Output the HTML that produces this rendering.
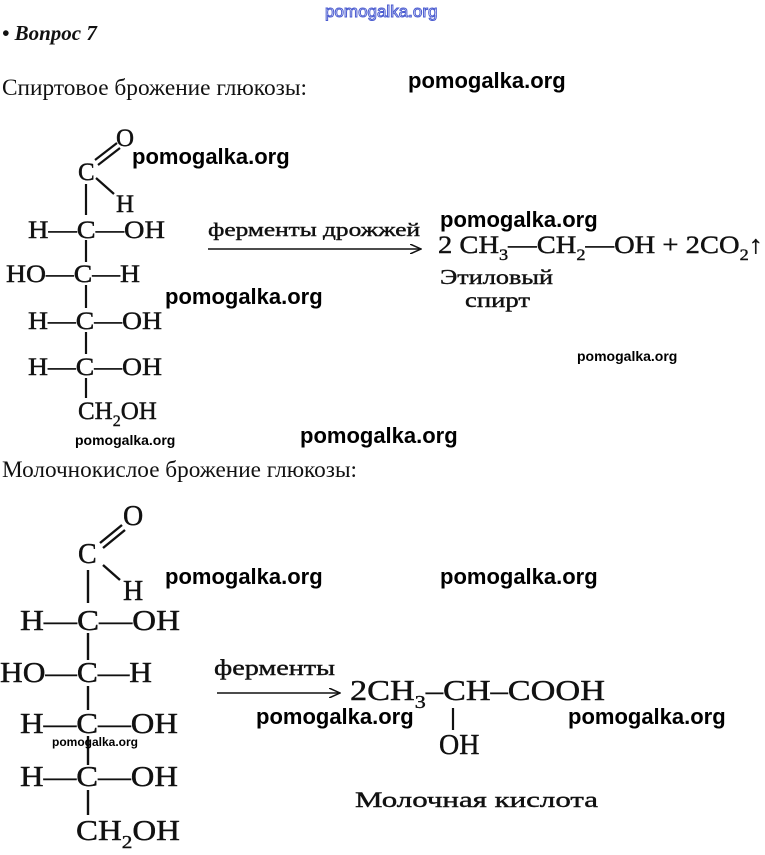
<!DOCTYPE html>
<html><head><meta charset="utf-8"><style>
html,body{margin:0;padding:0;background:#fff;width:765px;height:855px;overflow:hidden}
svg{display:block}
.s{font-family:"Liberation Serif",serif;fill:#111;stroke:#111;stroke-width:0.4}
.w{font-family:"Liberation Sans",sans-serif;font-weight:bold;fill:#000}
</style></head><body>
<svg width="765" height="855" viewBox="0 0 765 855" xmlns="http://www.w3.org/2000/svg">
<defs><marker id="a" markerWidth="12" markerHeight="10" refX="11" refY="5" orient="auto" markerUnits="userSpaceOnUse"><path d="M0,0 L11,5 L0,10" fill="none" stroke="#111" stroke-width="1.5"/></marker></defs>
<text x="325" y="17" font-family="Liberation Sans,sans-serif" font-size="17" fill="#fff" stroke="#4a5bd0" stroke-width="1">pomogalka.org</text>
<text x="2" y="40" font-family="Liberation Serif,serif" fill="#111" font-size="21" font-weight="bold" font-style="italic">• Вопрос 7</text>
<text x="2" y="95" font-family="Liberation Serif,serif" fill="#111" font-size="23" textLength="305" lengthAdjust="spacingAndGlyphs">Спиртовое брожение глюкозы:</text>
<text x="408" y="88" class="w" font-size="22">pomogalka.org</text>

<g class="s" font-size="25">
<text x="116" y="146">O</text>
<text x="78" y="180">C</text>
<text x="116" y="212">H</text>
<text x="28" y="238" textLength="137" lengthAdjust="spacingAndGlyphs">H—C—OH</text>
<text x="6" y="282" textLength="134" lengthAdjust="spacingAndGlyphs">HO—C—H</text>
<text x="28" y="329" textLength="134" lengthAdjust="spacingAndGlyphs">H—C—OH</text>
<text x="28" y="375" textLength="134" lengthAdjust="spacingAndGlyphs">H—C—OH</text>
<text x="78" y="419">CH<tspan font-size="16" dy="7">2</tspan><tspan dy="-7">OH</tspan></text>
</g>
<g stroke="#111" stroke-width="2.2" fill="none">
<line x1="95" y1="160" x2="117" y2="143"/><line x1="98" y1="165" x2="120" y2="148"/>
<line x1="96" y1="178" x2="114" y2="194"/>
<line x1="86" y1="184" x2="86" y2="215"/>
<line x1="86" y1="240" x2="86" y2="262"/>
<line x1="86" y1="285" x2="86" y2="308"/>
<line x1="86" y1="332" x2="86" y2="354"/>
<line x1="86" y1="378" x2="86" y2="398"/>
</g>
<text x="208" y="236" class="s" font-size="19" textLength="212" lengthAdjust="spacingAndGlyphs">ферменты дрожжей</text>
<line x1="208" y1="249" x2="421" y2="249" stroke="#111" stroke-width="1.5" marker-end="url(#a)"/>
<text x="438" y="253" class="s" font-size="25" textLength="325" lengthAdjust="spacingAndGlyphs">2 CH<tspan font-size="16" dy="7">3</tspan><tspan dy="-7">—CH</tspan><tspan font-size="16" dy="7">2</tspan><tspan dy="-7">—OH + 2CO</tspan><tspan font-size="16" dy="7">2</tspan><tspan dy="-7">↑</tspan></text>
<text x="440" y="284" class="s" font-size="21" textLength="113" lengthAdjust="spacingAndGlyphs">Этиловый</text>
<text x="465" y="307" class="s" font-size="21" textLength="65" lengthAdjust="spacingAndGlyphs">спирт</text>

<text x="132" y="164" class="w" font-size="22">pomogalka.org</text>
<text x="440" y="227" class="w" font-size="22">pomogalka.org</text>
<text x="165" y="304" class="w" font-size="22">pomogalka.org</text>
<text x="577" y="361" class="w" font-size="14" font-weight="normal">pomogalka.org</text>
<text x="75" y="445" class="w" font-size="14" font-weight="normal">pomogalka.org</text>
<text x="300" y="443" class="w" font-size="22">pomogalka.org</text>

<text x="2" y="477" font-family="Liberation Serif,serif" fill="#111" font-size="23" textLength="355" lengthAdjust="spacingAndGlyphs">Молочнокислое брожение глюкозы:</text>

<g class="s" font-size="28">
<text x="123" y="525">O</text>
<text x="78" y="563">C</text>
<text x="123" y="600">H</text>
<text x="20" y="630" textLength="160" lengthAdjust="spacingAndGlyphs">H—C—OH</text>
<text x="0" y="682" textLength="152" lengthAdjust="spacingAndGlyphs">HO—C—H</text>
<text x="20" y="733" textLength="158" lengthAdjust="spacingAndGlyphs">H—C—OH</text>
<text x="20" y="786" textLength="158" lengthAdjust="spacingAndGlyphs">H—C—OH</text>
<text x="76" y="840" textLength="104" lengthAdjust="spacingAndGlyphs">CH<tspan font-size="18" dy="8">2</tspan><tspan dy="-8">OH</tspan></text>
</g>
<g stroke="#111" stroke-width="2.4" fill="none">
<line x1="100" y1="543" x2="122" y2="525"/><line x1="103" y1="548" x2="125" y2="530"/>
<line x1="103" y1="565" x2="120" y2="580"/>
<line x1="88" y1="570" x2="88" y2="603"/>
<line x1="88" y1="633" x2="88" y2="660"/>
<line x1="88" y1="686" x2="88" y2="710"/>
<line x1="88" y1="736" x2="88" y2="765"/>
<line x1="88" y1="790" x2="88" y2="815"/>
</g>
<text x="214" y="675" class="s" font-size="22" textLength="121" lengthAdjust="spacingAndGlyphs">ферменты</text>
<line x1="217" y1="693" x2="340" y2="693" stroke="#111" stroke-width="1.5" marker-end="url(#a)"/>
<text x="350" y="700" class="s" font-size="28" textLength="255" lengthAdjust="spacingAndGlyphs">2CH<tspan font-size="18" dy="8">3</tspan><tspan dy="-8">–CH–COOH</tspan></text>
<line x1="453" y1="708" x2="453" y2="730" stroke="#111" stroke-width="2.2"/>
<text x="439" y="754" class="s" font-size="28">OH</text>
<text x="355" y="807" class="s" font-size="22" textLength="243" lengthAdjust="spacingAndGlyphs">Молочная кислота</text>

<text x="165" y="584" class="w" font-size="22">pomogalka.org</text>
<text x="440" y="584" class="w" font-size="22">pomogalka.org</text>
<text x="256" y="724" class="w" font-size="22">pomogalka.org</text>
<text x="568" y="724" class="w" font-size="22">pomogalka.org</text>
<text x="52" y="746" class="w" font-size="12" font-weight="normal">pomogalka.org</text>
</svg>
</body></html>
